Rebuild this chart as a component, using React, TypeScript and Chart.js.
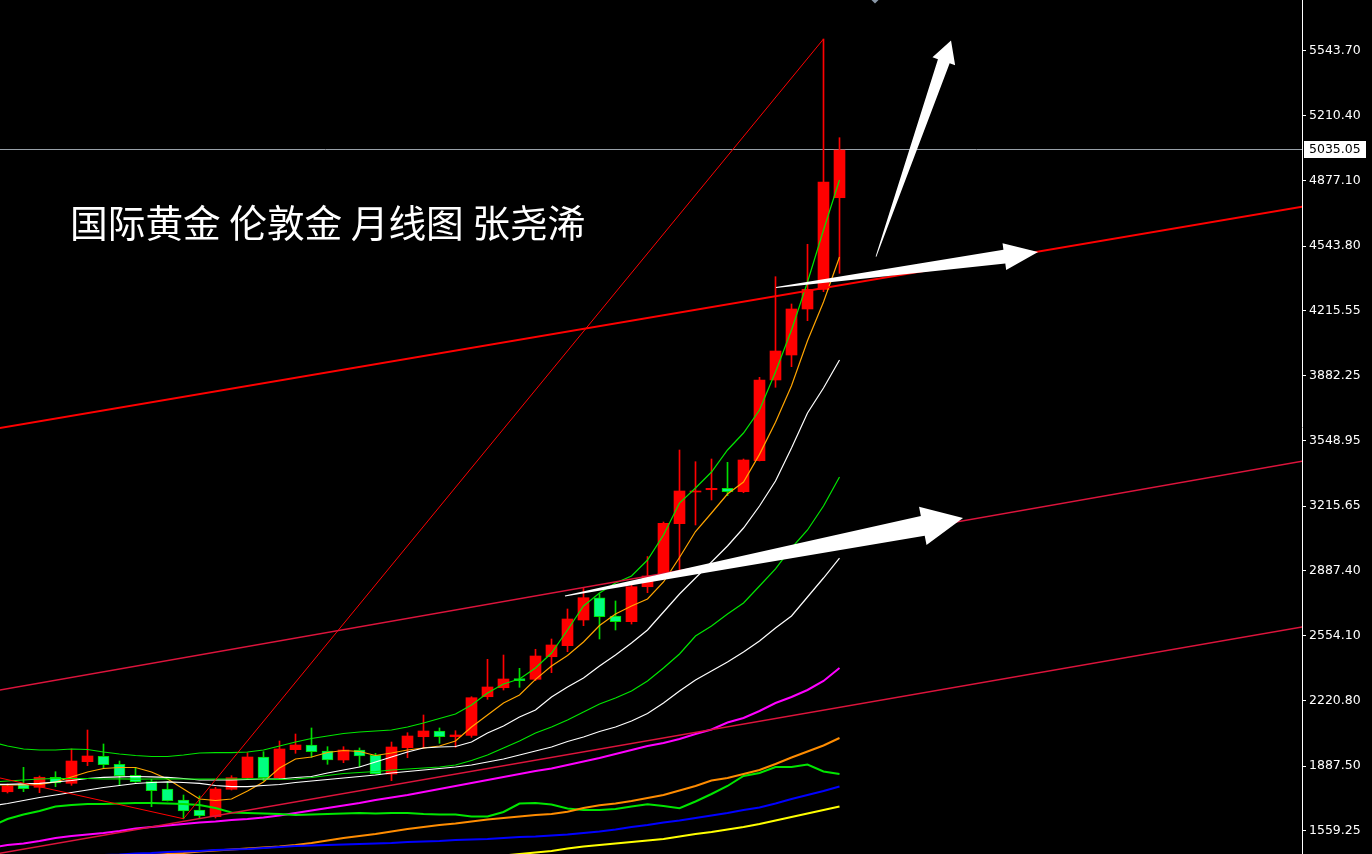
import React, { useEffect, useRef } from "react";
import { Chart, registerables } from "chart.js";
Chart.register(...registerables);

// ---------- axis ----------
const Y_MAX = 5802.0;
const Y_MIN = 1437.9;
const X_MIN = -0.46875;
const X_MAX = 80.90625;
const yTicks = [5543.7, 5210.4, 4877.1, 4543.8, 4215.55, 3882.25, 3548.95, 3215.65, 2887.4, 2554.1, 2220.8, 1887.5, 1559.25];
const lastPrice = 5035.05;
const titleText = "国际黄金 伦敦金 月线图 张尧浠";

// ---------- monthly candles (index 0..52) ----------
const opens = [1756, 1794.1, 1778.8, 1829.9, 1799.2, 1909.6, 1937.1, 1896.3, 1840.1, 1807.4, 1770.0, 1713.8, 1662.7, 1628.5, 1768.5, 1827.8, 1933.6, 1827.8, 1970.9, 1995.0, 1964.3, 1918.3, 1969.4, 1942.3, 1846.7, 1981.1, 2037.3, 2066.5, 2037.3, 2044, 2241.7, 2287.7, 2333.7, 2330.7, 2446.1, 2502.4, 2633.7, 2747.6, 2654.1, 2625.0, 2803.8, 2860.0, 3125.8, 3287.8, 3299.5, 3306.7, 3289.3, 3447.7, 3860.2, 3987.9, 4223.0, 4323.6, 4791.7];
const highs = [1795.6, 1880.9, 1836.5, 1858.5, 1974.5, 2071.5, 2000.1, 1913.1, 1878.9, 1819.6, 1807.4, 1739.4, 1734.3, 1778.8, 1838.1, 1955.6, 1960.7, 2015.3, 2051.1, 2081.9, 1986.3, 1986.3, 1979.8, 1952.5, 2010.2, 2057.7, 2148.3, 2081.9, 2068.0, 2241.7, 2432.8, 2454.8, 2386.8, 2484.0, 2536.6, 2689.9, 2795.7, 2766.5, 2730.8, 2812.5, 2958.1, 3134.5, 3502.4, 3442.6, 3456.4, 3439.5, 3456.4, 3873.9, 4388.0, 4248.5, 4553.6, 5602.7, 5098.3];
const lows = [1749.6, 1756.3, 1751.2, 1781.8, 1788.9, 1889.1, 1875.9, 1787.0, 1803.3, 1679.6, 1708.7, 1618.0, 1621.9, 1621.9, 1764.9, 1823.7, 1812.5, 1821.2, 1952.5, 1932.0, 1896.3, 1904.5, 1884.0, 1846.7, 1812.5, 1930.0, 1978.0, 2003.6, 1983.1, 2034.2, 2228.4, 2275.9, 2289.8, 2323.5, 2364.4, 2471.7, 2604.6, 2536.6, 2582.6, 2613.2, 2773.3, 2853.4, 2855.0, 3119.2, 3246.9, 3268.9, 3284.2, 3446.2, 3822.8, 3928.1, 4163.2, 4311.4, 4405.4];
const closes = [1785.4, 1771.6, 1829.9, 1800.7, 1913.1, 1938.7, 1894.2, 1838.1, 1807.4, 1761.4, 1710.2, 1657.6, 1633.6, 1770.0, 1827.8, 1933.6, 1827.8, 1974.5, 1995.0, 1960.7, 1918.3, 1969.4, 1938.7, 1848.3, 1984.7, 2040.9, 2066.5, 2037.3, 2046.0, 2236.6, 2291.3, 2332.2, 2323.5, 2449.7, 2506.0, 2638.8, 2747.6, 2650.6, 2625.0, 2803.8, 2858.5, 3127.8, 3292.9, 3292.9, 3306.7, 3289.3, 3451.3, 3860.2, 4008.3, 4223.0, 4323.6, 4871.9, 5035.05];

// ---------- moving-average style lines (index -1..52) ----------
const maStart = -1;
const greenFast = [2010.3, 1989.8, 1974.5, 1969.4, 1969.4, 1974.5, 1972.0, 1959.2, 1949.0, 1941.3, 1936.2, 1936.2, 1943.8, 1954.1, 1955.6, 1955.6, 1959.2, 1969.4, 1989.8, 2010.3, 2028.2, 2040.9, 2053.7, 2061.4, 2066.5, 2071.6, 2086.9, 2107.4, 2130.4, 2153.4, 2199.4, 2260.7, 2306.7, 2332.2, 2388.5, 2465.1, 2582.6, 2705.3, 2771.7, 2822.8, 2858.5, 2940.3, 3068.0, 3231.6, 3308.2, 3390.0, 3502.4, 3589.3, 3706.8, 3901.0, 4115.6, 4360.9, 4626.7, 4882.2];
const orangeFast = [1790.5, 1790.5, 1790.5, 1793.0, 1805.8, 1831.3, 1856.9, 1874.8, 1879.9, 1879.9, 1856.9, 1821.1, 1770.0, 1718.9, 1711.2, 1718.9, 1759.8, 1805.8, 1877.3, 1923.3, 1933.6, 1956.6, 1966.8, 1961.7, 1941.3, 1954.1, 1969.4, 1979.6, 1989.8, 2015.4, 2086.9, 2148.3, 2209.5, 2250.4, 2330.5, 2398.6, 2452.3, 2521.4, 2605.6, 2664.4, 2705.3, 2741.0, 2827.9, 2953.1, 3085.9, 3180.4, 3277.4, 3338.9, 3480.0, 3644.0, 3831.0, 4060.5, 4258.7, 4488.6];
const whiteUpper = [1793.0, 1794.0, 1796.6, 1799.1, 1805.8, 1813.5, 1823.7, 1829.8, 1832.4, 1833.9, 1832.4, 1829.8, 1823.7, 1816.0, 1816.0, 1816.0, 1818.6, 1821.1, 1821.1, 1828.8, 1833.9, 1851.8, 1867.1, 1882.4, 1908.0, 1933.6, 1959.2, 1979.6, 1984.7, 1987.3, 2010.3, 2056.3, 2092.0, 2138.0, 2173.8, 2240.2, 2291.3, 2337.3, 2398.6, 2454.8, 2516.1, 2582.6, 2674.6, 2766.6, 2848.3, 2930.1, 3011.8, 3103.8, 3216.2, 3344.0, 3512.6, 3691.5, 3819.2, 3962.3];
const greenMid = [1805.8, 1810.9, 1816.0, 1821.1, 1823.7, 1823.7, 1823.7, 1821.1, 1822.0, 1820.5, 1821.1, 1821.6, 1821.1, 1820.6, 1821.1, 1821.1, 1821.6, 1821.1, 1819.6, 1821.1, 1828.8, 1839.0, 1849.2, 1854.3, 1859.5, 1867.1, 1872.2, 1877.3, 1882.4, 1892.7, 1915.7, 1943.8, 1979.6, 2015.3, 2056.3, 2086.9, 2122.7, 2163.6, 2204.5, 2235.1, 2270.9, 2322.0, 2388.5, 2460.0, 2552.0, 2603.1, 2664.4, 2720.6, 2807.5, 2894.4, 3001.7, 3093.7, 3216.2, 3364.4];
const whiteLower = [1683.1, 1695.9, 1711.2, 1726.6, 1739.3, 1752.1, 1764.9, 1777.6, 1787.9, 1798.1, 1803.2, 1806.8, 1803.2, 1799.1, 1787.9, 1781.8, 1781.8, 1787.9, 1793.0, 1803.2, 1810.9, 1818.6, 1826.3, 1833.9, 1841.6, 1851.8, 1859.5, 1867.1, 1874.8, 1882.4, 1892.7, 1908.0, 1923.3, 1943.8, 1964.3, 1984.7, 2012.8, 2035.8, 2063.9, 2086.9, 2117.6, 2155.9, 2209.5, 2270.9, 2327.1, 2373.1, 2419.1, 2470.2, 2526.4, 2592.8, 2654.1, 2751.2, 2848.3, 2950.5];
const magentaLine = [1471.1, 1483.8, 1491.5, 1504.3, 1519.6, 1529.8, 1537.5, 1545.2, 1555.4, 1568.2, 1575.8, 1583.5, 1591.1, 1598.8, 1603.9, 1611.6, 1616.7, 1624.4, 1634.6, 1647.4, 1660.1, 1672.9, 1685.7, 1698.5, 1713.8, 1726.6, 1739.3, 1754.7, 1770.0, 1785.3, 1800.7, 1816.0, 1831.3, 1846.7, 1862.0, 1874.8, 1892.7, 1910.6, 1928.5, 1948.9, 1969.4, 1989.8, 2005.1, 2025.6, 2051.1, 2074.1, 2109.9, 2132.9, 2168.7, 2209.5, 2240.2, 2276.0, 2322.0, 2388.5];
const greenLow = [1580.9, 1616.7, 1639.6, 1657.5, 1680.6, 1688.3, 1693.4, 1693.4, 1695.9, 1698.5, 1698.5, 1695.9, 1693.4, 1688.3, 1673.0, 1649.9, 1647.4, 1644.8, 1642.3, 1637.2, 1639.7, 1642.3, 1644.8, 1647.4, 1644.8, 1647.4, 1647.4, 1642.3, 1639.7, 1639.7, 1629.5, 1629.5, 1652.5, 1695.9, 1698.5, 1690.9, 1670.4, 1662.8, 1662.8, 1667.9, 1680.6, 1691.9, 1683.2, 1671.5, 1706.2, 1744.5, 1785.4, 1836.5, 1851.8, 1882.4, 1882.4, 1895.2, 1859.4, 1846.7];
const orangeSlow = [1381.6, 1386.7, 1391.9, 1397.0, 1402.1, 1407.2, 1412.3, 1417.4, 1422.5, 1427.6, 1432.7, 1437.8, 1442.9, 1450.6, 1455.7, 1460.8, 1465.9, 1471.1, 1476.2, 1483.8, 1494.0, 1506.8, 1519.6, 1529.8, 1540.0, 1552.8, 1565.6, 1575.8, 1586.0, 1593.7, 1603.9, 1614.1, 1621.8, 1629.5, 1637.2, 1642.3, 1654.0, 1672.9, 1687.2, 1696.4, 1708.7, 1724.0, 1739.3, 1762.3, 1785.3, 1813.4, 1826.2, 1846.7, 1867.1, 1897.8, 1931.0, 1961.7, 1992.4, 2030.7];
const blueLine = [1402.1, 1407.2, 1409.8, 1414.9, 1417.4, 1422.5, 1427.6, 1432.7, 1435.3, 1440.4, 1442.9, 1448.1, 1450.6, 1453.2, 1458.3, 1460.8, 1463.4, 1468.5, 1473.6, 1478.7, 1481.3, 1483.8, 1486.4, 1488.9, 1491.5, 1494.0, 1499.1, 1501.7, 1504.3, 1509.4, 1511.9, 1514.5, 1519.6, 1524.7, 1527.3, 1532.4, 1537.5, 1545.2, 1552.8, 1563.0, 1575.8, 1586.0, 1598.8, 1609.0, 1621.8, 1634.6, 1647.4, 1662.8, 1675.5, 1695.9, 1718.9, 1739.4, 1759.8, 1782.8];
const yellowStart = 28;
const yellowLine = [1407.2, 1414.9, 1422.5, 1430.2, 1437.8, 1445.5, 1453.2, 1465.9, 1476.2, 1483.8, 1491.5, 1499.1, 1506.8, 1514.5, 1527.2, 1540.0, 1550.2, 1563.0, 1575.8, 1591.1, 1609.0, 1626.9, 1644.8, 1662.7, 1680.6];

// ---------- trend lines (index, price) ----------
const thickLineIdx = [-1, 82];
const thickLinePrice = [3607.7, 4761.1];
const channelAIdx = [-1, 82];
const channelAPrice = [2268.3, 3460.5];
const channelBIdx = [-1, 82];
const channelBPrice = [1434.4, 2613.2];
const zigzagIdx = [-1, 11, 51];
const zigzagPrice = [1836.0, 1618.0, 5602.7];

// ---------- arrows (index, price) ----------
const arrowTailIdx = [54.28, 48.03, 34.84];
const arrowTailPrice = [4490.2, 4332.8, 2756.3];
const arrowTipIdx = [58.97, 64.41, 59.72];
const arrowTipPrice = [5595.0, 4514.2, 3154.9];
const arrowHeadLen = [22, 34, 41];
const arrowHeadHalf = [12, 13.5, 19.5];
const arrowShaftHalf = [6.2, 7, 10];
const markerIdx = 54.22;

const RED = "#ff0000";
const GREEN_FILL = "#00ff80";
const GREEN_EDGE = "#00dd00";

function pts(start: number, arr: number[]) {
  return arr.map((v, i) => ({ x: start + i, y: v }));
}
function pairPts(xs: number[], ys: number[]) {
  return xs.map((x, i) => ({ x, y: ys[i] }));
}

function drawArrow(ctx: CanvasRenderingContext2D, tx: number, ty: number, px: number, py: number, hl: number, hw: number, sw: number) {
  const dx = px - tx, dy = py - ty;
  const L = Math.hypot(dx, dy);
  const ux = dx / L, uy = dy / L;
  const nx = -uy, ny = ux;
  const bx = px - ux * hl, by = py - uy * hl;
  const tw = 0.4;
  ctx.beginPath();
  ctx.moveTo(tx + nx * tw, ty + ny * tw);
  ctx.lineTo(bx + nx * sw, by + ny * sw);
  ctx.lineTo(bx + nx * hw, by + ny * hw);
  ctx.lineTo(px, py);
  ctx.lineTo(bx - nx * hw, by - ny * hw);
  ctx.lineTo(bx - nx * sw, by - ny * sw);
  ctx.lineTo(tx - nx * tw, ty - ny * tw);
  ctx.closePath();
  ctx.fill();
}

const overlayPlugin = {
  id: "overlay",
  beforeDraw(chart: any) {
    const { ctx, width, height } = chart;
    ctx.save();
    ctx.fillStyle = "#000";
    ctx.fillRect(0, 0, width, height);
    ctx.restore();
  },
  beforeDatasetsDraw(chart: any) {
    const { ctx, chartArea } = chart;
    const y = chart.scales.y;
    const py = Math.round(y.getPixelForValue(lastPrice)) - 0.5;
    ctx.save();
    ctx.strokeStyle = "#98a0a8";
    ctx.lineWidth = 1;
    ctx.beginPath();
    ctx.moveTo(chartArea.left, py);
    ctx.lineTo(chartArea.right, py);
    ctx.stroke();
    ctx.restore();
  },
  afterDatasetsDraw(chart: any) {
    const { ctx, chartArea } = chart;
    const x = chart.scales.x;
    const y = chart.scales.y;
    ctx.save();
    ctx.beginPath();
    ctx.rect(chartArea.left, chartArea.top, chartArea.right - chartArea.left, chartArea.bottom - chartArea.top);
    ctx.clip();
    ctx.fillStyle = "#ffffff";
    for (let i = 0; i < arrowTailIdx.length; i++) {
      drawArrow(
        ctx,
        x.getPixelForValue(arrowTailIdx[i]),
        y.getPixelForValue(arrowTailPrice[i]),
        x.getPixelForValue(arrowTipIdx[i]),
        y.getPixelForValue(arrowTipPrice[i]),
        arrowHeadLen[i],
        arrowHeadHalf[i],
        arrowShaftHalf[i]
      );
    }
    // small marker at top
    const mx = x.getPixelForValue(markerIdx);
    ctx.fillStyle = "#8a98a8";
    ctx.beginPath();
    ctx.moveTo(mx - 3.5, chartArea.top);
    ctx.lineTo(mx + 3.5, chartArea.top);
    ctx.lineTo(mx, chartArea.top + 3.5);
    ctx.closePath();
    ctx.fill();
    // title
    ctx.fillStyle = "#ffffff";
    ctx.font = '37.7px "Noto Sans CJK SC"';
    ctx.textBaseline = "alphabetic";
    ctx.textAlign = "left";
    ctx.fillText(titleText, 70, 237);
    ctx.restore();
  },
  afterDraw(chart: any) {
    const { ctx } = chart;
    const y = chart.scales.y;
    const py = Math.round(y.getPixelForValue(lastPrice)) - 0.5;
    ctx.save();
    ctx.fillStyle = "#ffffff";
    ctx.fillRect(y.left + 2, py - 8.5, 62, 17);
    ctx.fillStyle = "#000000";
    ctx.font = '12.5px "DejaVu Sans"';
    ctx.textBaseline = "middle";
    ctx.textAlign = "left";
    ctx.fillText(lastPrice.toFixed(2), y.left + 7, py + 0.5);
    ctx.restore();
  },
};

export default function App() {
  const ref = useRef<HTMLCanvasElement>(null);
  useEffect(() => {
    const idx = opens.map((_, i) => i);
    const upIdx = idx.filter((i) => closes[i] >= opens[i]);
    const dnIdx = idx.filter((i) => closes[i] < opens[i]);
    const lineDs = (label: string, data: any[], color: string, width: number, order: number) => ({
      type: "line" as const,
      label,
      data,
      borderColor: color,
      backgroundColor: color,
      borderWidth: width,
      pointRadius: 0,
      pointHoverRadius: 0,
      fill: false,
      tension: 0,
      order,
    });
    const chart = new Chart(ref.current as HTMLCanvasElement, {
      type: "bar",
      data: {
        datasets: [
          {
            label: "upWick",
            data: upIdx.map((i) => ({ x: i, y: [lows[i], highs[i]] })),
            backgroundColor: RED,
            barThickness: 1,
            grouped: false,
            order: 10,
          } as any,
          {
            label: "dnWick",
            data: dnIdx.map((i) => ({ x: i, y: [lows[i], highs[i]] })),
            backgroundColor: GREEN_EDGE,
            barThickness: 1,
            grouped: false,
            order: 10,
          } as any,
          {
            label: "upBody",
            data: upIdx.map((i) => ({ x: i, y: [opens[i], closes[i]] })),
            backgroundColor: RED,
            barThickness: 11,
            grouped: false,
            order: 9,
          } as any,
          {
            label: "dnBody",
            data: dnIdx.map((i) => ({ x: i, y: [closes[i], opens[i]] })),
            backgroundColor: GREEN_FILL,
            borderColor: GREEN_EDGE,
            borderWidth: 1,
            borderSkipped: false,
            barThickness: 11,
            grouped: false,
            order: 9,
          } as any,
          lineDs("yellow", pts(yellowStart, yellowLine), "#ffff00", 2, 5),
          lineDs("blue", pts(maStart, blueLine), "#0000ff", 2, 5),
          lineDs("orangeSlow", pts(maStart, orangeSlow), "#ff8c00", 2, 5),
          lineDs("greenLow", pts(maStart, greenLow), "#00e600", 2, 5),
          lineDs("magenta", pts(maStart, magentaLine), "#ff00ff", 2, 5),
          lineDs("whiteLower", pts(maStart, whiteLower), "#ffffff", 1.2, 5),
          lineDs("greenMid", pts(maStart, greenMid), "#00e600", 1.2, 5),
          lineDs("whiteUpper", pts(maStart, whiteUpper), "#ffffff", 1.2, 5),
          lineDs("orangeFast", pts(maStart, orangeFast), "#ffa500", 1.2, 5),
          lineDs("greenFast", pts(maStart, greenFast), "#00e600", 1.2, 5),
          lineDs("channelB", pairPts(channelBIdx, channelBPrice), "#dc143c", 1.5, 2),
          lineDs("channelA", pairPts(channelAIdx, channelAPrice), "#dc143c", 1.5, 2),
          lineDs("zigzag", pairPts(zigzagIdx, zigzagPrice), "#ff0000", 1, 2),
          lineDs("thick", pairPts(thickLineIdx, thickLinePrice), "#ff0000", 2, 1),
        ] as any,
      },
      options: {
        responsive: false,
        maintainAspectRatio: false,
        animation: false,
        devicePixelRatio: 1,
        events: [],
        layout: { padding: 0 },
        plugins: { legend: { display: false }, tooltip: { enabled: false }, title: { display: false } },
        scales: {
          x: {
            type: "linear",
            min: X_MIN,
            max: X_MAX,
            display: false,
            offset: false,
            grid: { offset: false, display: false },
          },
          y: {
            type: "linear",
            position: "right",
            min: Y_MIN,
            max: Y_MAX,
            afterBuildTicks: (s: any) => {
              s.ticks = yTicks.map((v) => ({ value: v }));
            },
            afterFit: (s: any) => {
              s.width = 70;
              s.paddingTop = 0;
              s.paddingBottom = 0;
            },
            ticks: {
              color: "#ffffff",
              font: { family: "DejaVu Sans", size: 12.5 },
              padding: 3,
              autoSkip: false,
              maxRotation: 0,
              callback: (v: any) => Number(v).toFixed(2),
            },
            grid: { display: true, drawOnChartArea: false, drawTicks: true, tickLength: 4, color: "#ffffff" },
            border: { display: true, color: "#ffffff", width: 1 },
          },
        },
      } as any,
      plugins: [overlayPlugin],
    });
    return () => chart.destroy();
  }, []);
  return (
    <div style={{ position: "fixed", left: 0, top: 0, width: 1372, height: 854, background: "#000", overflow: "hidden" }}>
      <canvas ref={ref} width={1372} height={854} style={{ display: "block", width: 1372, height: 854 }} />
    </div>
  );
}
